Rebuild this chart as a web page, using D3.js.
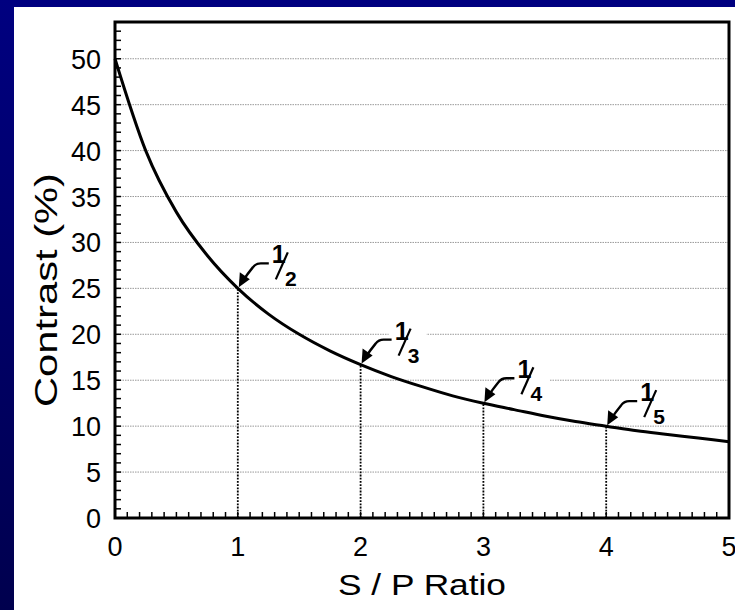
<!DOCTYPE html>
<html>
<head>
<meta charset="utf-8">
<script src="https://cdn.jsdelivr.net/npm/d3@7"></script>
<style>
  html, body { margin: 0; padding: 0; background: #fff; }
  svg { display: block; font-family: Arial, "Liberation Sans", Helvetica, sans-serif; }
</style>
</head>
<body>
<div id="chart"></div>
<script>
// S/P ratio vs contrast
const ratio    = [0, 0.25, 0.5, 0.75, 1, 1.25, 1.5, 1.75, 2, 2.25, 2.5, 2.75, 3, 3.25, 3.5, 3.75, 4, 4.25, 4.5, 4.75, 5];
const contrast = [50, 40, 33.3, 28.6, 25, 22.2, 20, 18.2, 16.7, 15.4, 14.3, 13.3, 12.5, 11.8, 11.1, 10.5, 10, 9.5, 9.1, 8.7, 8.3];

// marked points with their fraction labels
const markX     = [1, 2, 3, 4];
const markY     = [25, 16.7, 12.5, 10];
const markDenom = ['2', '3', '4', '5'];

const xTicks = [0, 1, 2, 3, 4, 5];
const yTicks = [0, 5, 10, 15, 20, 25, 30, 35, 40, 45, 50];
const gridY  = [5, 10, 15, 20, 25, 30, 35, 40, 45, 50];

const W = 735, H = 610;
const mLeft = 115, mRight = 729, mTop = 22, mBottom = 518;

const svg = d3.select('#chart').append('svg')
  .attr('width', W).attr('height', H);

// navy frame
const defs = svg.append('defs');
const grad = defs.append('linearGradient').attr('id', 'navy')
  .attr('x1', 0).attr('y1', 0).attr('x2', 0).attr('y2', 1);
grad.append('stop').attr('offset', '0%').attr('stop-color', '#000080');
grad.append('stop').attr('offset', '100%').attr('stop-color', '#00004e');

svg.append('rect').attr('width', W).attr('height', H).attr('fill', 'url(#navy)');
svg.append('rect').attr('x', 14).attr('y', 7).attr('width', W - 14).attr('height', H - 7).attr('fill', '#fff');

const x = d3.scaleLinear().domain([0, 5]).range([mLeft, mRight]);
const y = d3.scaleLinear().domain([0, 54]).range([mBottom, mTop]);

// gridlines
svg.append('g').selectAll('line')
  .data(gridY).join('line')
  .attr('x1', mLeft).attr('x2', mRight)
  .attr('y1', d => y(d)).attr('y2', d => y(d))
  .attr('stroke', '#999').attr('stroke-width', 1)
  .attr('stroke-dasharray', '1.5,1');

// white patches behind fraction labels (gaps in grid)
svg.append('g').selectAll('rect')
  .data(markX).join('rect')
  .attr('x', d => x(d) + 28)
  .attr('y', (d, i) => y(markY[i]) - 42)
  .attr('width', 38).attr('height', 26)
  .attr('fill', '#fff');

// drop lines
svg.append('g').selectAll('line')
  .data(markX).join('line')
  .attr('x1', d => x(d)).attr('x2', d => x(d))
  .attr('y1', y(0)).attr('y2', (d, i) => y(markY[i]))
  .attr('stroke', '#000').attr('stroke-width', 1.8)
  .attr('stroke-dasharray', '1.8,1.4');

// minor ticks
svg.append('g').selectAll('line')
  .data(d3.range(1, 50)).join('line')
  .attr('x1', d => x(d / 10)).attr('x2', d => x(d / 10))
  .attr('y1', mBottom).attr('y2', mBottom - 6)
  .attr('stroke', '#000').attr('stroke-width', 1.5);
svg.append('g').selectAll('line')
  .data(d3.range(1, 54)).join('line')
  .attr('y1', d => y(d)).attr('y2', d => y(d))
  .attr('x1', mLeft).attr('x2', mLeft + 6)
  .attr('stroke', '#000').attr('stroke-width', 1.5);

// curve
const line = d3.line()
  .x((d, i) => x(ratio[i]))
  .y(d => y(d))
  .curve(d3.curveMonotoneX);
svg.append('path')
  .datum(contrast)
  .attr('d', line)
  .attr('fill', 'none').attr('stroke', '#000').attr('stroke-width', 3);

// frame
svg.append('rect')
  .attr('x', mLeft).attr('y', mTop)
  .attr('width', mRight - mLeft).attr('height', mBottom - mTop)
  .attr('fill', 'none').attr('stroke', '#000').attr('stroke-width', 3);

// axis labels
svg.append('g').selectAll('text')
  .data(yTicks).join('text')
  .attr('x', 101).attr('y', d => y(d) + 10)
  .attr('text-anchor', 'end')
  .attr('font-size', 27)
  .text(d => d);
svg.append('g').selectAll('text')
  .data(xTicks).join('text')
  .attr('x', d => x(d)).attr('y', 556)
  .attr('text-anchor', 'middle')
  .attr('font-size', 27)
  .text(d => d);

svg.append('text')
  .attr('x', 422).attr('y', 595)
  .attr('text-anchor', 'middle')
  .attr('font-size', 30)
  .attr('textLength', 168).attr('lengthAdjust', 'spacingAndGlyphs')
  .text('S / P Ratio');
svg.append('text')
  .attr('transform', 'translate(57,290) rotate(-90)')
  .attr('text-anchor', 'middle')
  .attr('font-size', 31)
  .attr('textLength', 234).attr('lengthAdjust', 'spacingAndGlyphs')
  .text('Contrast (%)');

// annotations: arrow + stacked fraction
const ann = svg.append('g').selectAll('g')
  .data(markX).join('g')
  .attr('transform', (d, i) => `translate(${x(d)},${y(markY[i])})`);

ann.append('path')
  .attr('d', 'M4,-6 Q10,-15 15,-21 Q18,-25 23,-25 L31,-25')
  .attr('fill', 'none').attr('stroke', '#000').attr('stroke-width', 2.4);
ann.append('path')
  .attr('d', 'M1,-1 L2,-16 L12,-9 Z')
  .attr('fill', '#000');

ann.append('text')
  .attr('x', 41).attr('y', -25)
  .attr('text-anchor', 'middle')
  .attr('font-size', 25).attr('font-weight', 'bold')
  .text('1');
ann.append('line')
  .attr('x1', 38).attr('y1', -9).attr('x2', 50).attr('y2', -36)
  .attr('stroke', '#000').attr('stroke-width', 2.2);
ann.append('text')
  .attr('x', 53).attr('y', -2)
  .attr('text-anchor', 'middle')
  .attr('font-size', 21).attr('font-weight', 'bold')
  .text((d, i) => markDenom[i]);
</script>
</body>
</html>
